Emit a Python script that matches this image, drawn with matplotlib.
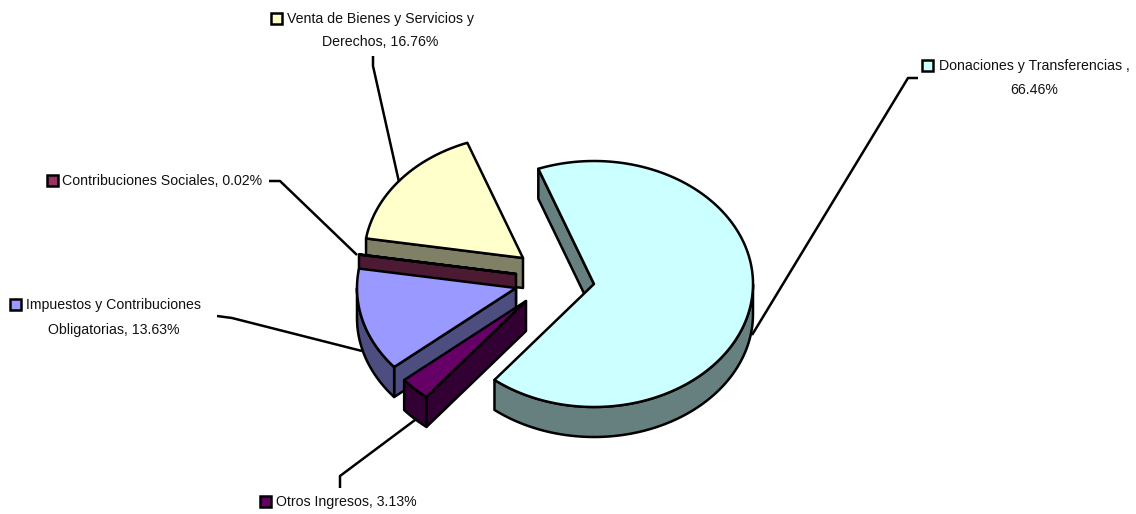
import numpy as np
import matplotlib
matplotlib.use('Agg')
import matplotlib.pyplot as plt
from matplotlib.patches import Polygon, Rectangle

plt.rcParams['font.family'] = ['Liberation Sans', 'DejaVu Sans']

# drawn back to front, shares run clockwise from the top of Donaciones
names = ['Donaciones y Transferencias', 'Otros Ingresos', 'Impuestos y Contribuciones Obligatorias',
         'Contribuciones Sociales', 'Venta de Bienes y Servicios y Derechos']
shares = [66.46, 3.13, 13.63, 0.02, 16.76]
top_colors = ['#CCFFFF', '#660066', '#9999FF', '#993366', '#FFFFCC']
side_colors = ['#668080', '#330033', '#4D4D80', '#4D1A33', '#808066']
label_lines = [['Donaciones y Transferencias ,', '66.46%'],
               ['Otros Ingresos, 3.13%'],
               ['Impuestos y Contribuciones', 'Obligatorias, 13.63%'],
               ['Contribuciones Sociales, 0.02%'],
               ['Venta de Bienes y Servicios y', 'Derechos, 16.76%']]

# layout, in pixels
apexes = [(594, 284), (526, 301), (516, 288), (516, 274), (523, 258)]
rx, ry, depth = 159, 123, 30
start_angle = 110.5
draw_order = [4, 3, 2, 1, 0]
label_pos = [(1034, 66, 90), (346.5, 502), (114, 305, 330), (162.5, 181), (380.5, 19, 42)]
key_pos = [(922, 60), (260, 496), (10, 299), (47, 175), (271, 13)]
leaders = [[(918, 78), (908, 78), (752, 335)],
           [(340, 488), (340, 476), (415, 420)],
           [(217, 316), (232, 318), (362, 351)],
           [(269, 181), (280, 181), (357, 255)],
           [(373, 56), (373, 66), (399, 182)]]
lw = 1.8


def rim(apex, t):
    return np.column_stack([apex[0] + rx * np.cos(t), apex[1] - ry * np.sin(t)])


def radial_wall(ax, apex, a, side):
    p = rim(apex, np.radians([a]))[0]
    quad = [apex, p, (p[0], p[1] + depth), (apex[0], apex[1] + depth)]
    ax.add_patch(Polygon(quad, closed=True, fc=side, ec='black', lw=lw, joinstyle='round'))


def draw_slice(ax, apex, a0, a1, top, side):
    t = np.radians(np.linspace(a0, a1, 200))
    # only the walls that face the viewer
    if np.cos(np.radians(a0)) < 0:
        radial_wall(ax, apex, a0, side)
    if np.cos(np.radians(a1)) > 0:
        radial_wall(ax, apex, a1, side)
    front = t[np.sin(t) <= 0]
    if len(front) > 1:
        upper = rim(apex, front)
        lower = upper + [0, depth]
        ax.add_patch(Polygon(np.vstack([upper, lower[::-1]]), closed=True, fc=side, ec='black',
                             lw=lw, joinstyle='round'))
    pts = np.vstack([[apex], rim(apex, t)])
    ax.add_patch(Polygon(pts, closed=True, fc=top, ec='black', lw=lw, joinstyle='round'))


fig = plt.figure(figsize=(11.36, 5.14), dpi=100)
ax = fig.add_axes([0, 0, 1, 1])
ax.set_xlim(0, 1136)
ax.set_ylim(514, 0)
ax.axis('off')

for line in leaders:
    xs, ys = zip(*line)
    ax.plot(xs, ys, color='black', lw=lw, solid_capstyle='butt')

edges = start_angle - np.cumsum([0] + shares) / sum(shares) * 360
for i in draw_order:
    draw_slice(ax, apexes[i], edges[i], edges[i + 1], top_colors[i], side_colors[i])

for i in range(len(names)):
    pos = label_pos[i]
    for line, y in zip(label_lines[i], pos[1:]):
        ax.text(pos[0], y, line, ha='center', va='center', fontsize=10.2, color='#111111')
    ax.add_patch(Rectangle(key_pos[i], 11, 11, fc=top_colors[i], ec='black', lw=1.8))

fig.savefig('out.png', dpi=100)
